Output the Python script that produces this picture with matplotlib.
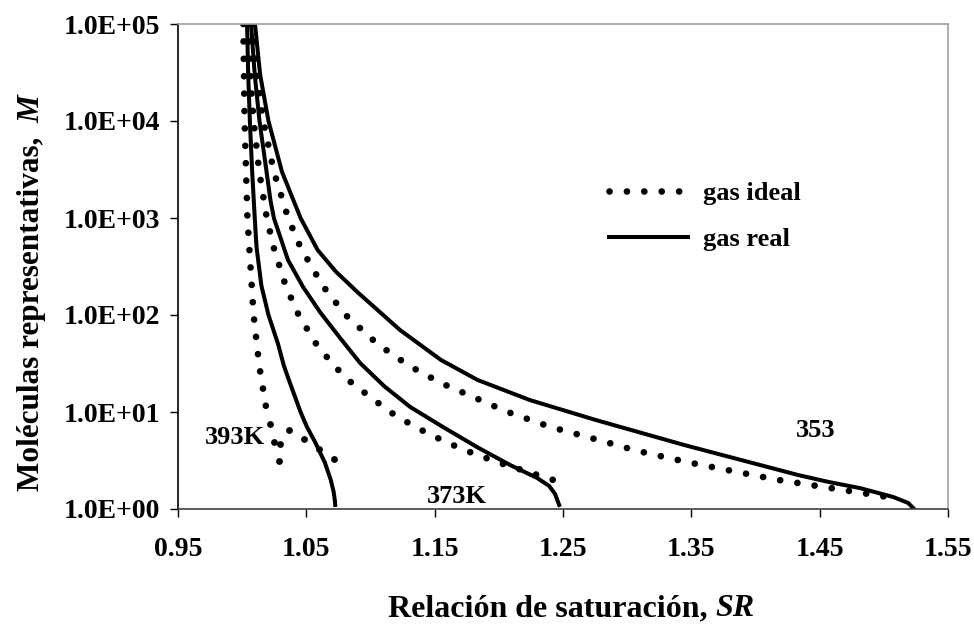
import numpy as np
import matplotlib
matplotlib.use('Agg')
import matplotlib.pyplot as plt
from matplotlib.ticker import FixedLocator, FuncFormatter

plt.rcParams['font.family'] = ['Liberation Serif', 'DejaVu Serif']
plt.rcParams['font.weight'] = 'bold'

# ── data (SR, M) ────────────────────────────────────────────────────────────
sr_393_ideal = [1.0009, 1.0019, 1.0041, 1.0089, 1.0133, 1.0192]
m_393_ideal = [1e5, 1e4, 1e3, 100, 30, 10]
# loose points where the 393 K ideal curve folds back
sr_393_tail = [1.0217, 1.0248, 1.0287, 1.0295, 1.0365, 1.0482, 1.0599, 1.0716]
m_393_tail = [7.5, 4.9, 3.1, 4.7, 6.5, 5.3, 4.2, 3.3]

sr_393_real = [1.0038, 1.0047, 1.0060, 1.0078, 1.0098, 1.0112, 1.0150, 1.0205, 1.0280,
               1.0325, 1.0372, 1.0455, 1.0505, 1.0565, 1.0600, 1.0645, 1.0690, 1.0713,
               1.0723, 1.0725]
m_393_real = [1e5, 3e4, 1e4, 3e3, 1e3, 500, 200, 100, 50, 30, 20, 10, 7, 5, 4, 3, 2, 1.5,
              1.2, 1.1]

sr_373_ideal = [1.0048, 1.0063, 1.0089, 1.0133, 1.0192, 1.0245, 1.0339, 1.0440, 1.0578,
                1.0716, 1.0852, 1.1153, 1.1349, 1.1574, 1.1743, 1.2001, 1.2420, 1.2454]
m_373_ideal = [1e5, 3e4, 1e4, 3e3, 1e3, 500, 200, 100, 50, 30, 20, 10, 7, 5, 4, 3, 2, 1.95]

sr_373_real = [1.0069, 1.0098, 1.0135, 1.0190, 1.0220, 1.0247, 1.0357, 1.0474, 1.0607,
               1.0763, 1.0919, 1.1106, 1.1308, 1.1565, 1.1830, 1.2088, 1.2298, 1.2392,
               1.2438, 1.2470]
m_373_real = [1e5, 3e4, 1e4, 3e3, 1535, 1e3, 369, 195, 107, 58, 32, 18.5, 11.3, 7.0, 4.35,
              2.84, 2.09, 1.73, 1.43, 1.10]

sr_353_ideal = [1.0076, 1.0114, 1.0165, 1.0247, 1.0358, 1.0454, 1.0628, 1.0806, 1.1056,
                1.1300, 1.1545, 1.2069, 1.2404, 1.2810, 1.3070, 1.3490, 1.4170, 1.4780,
                1.5120]
m_353_ideal = [1e5, 3e4, 1e4, 3e3, 1e3, 500, 200, 100, 50, 30, 20, 10, 7, 5, 4, 3, 2, 1.5,
               1.27]

sr_353_real = [1.0100, 1.0140, 1.0205, 1.0310, 1.0455, 1.0588, 1.0730, 1.0905, 1.1230,
               1.1549, 1.1834, 1.2240, 1.2754, 1.3444, 1.4332, 1.4570, 1.4816, 1.5073,
               1.5190, 1.5229]
m_353_real = [1e5, 3e4, 1e4, 3e3, 1e3, 468, 280, 169, 70, 34.4, 21.4, 13.3, 8.28, 4.57,
              2.24, 1.90, 1.64, 1.33, 1.153, 1.023]

x_ticks = [0.95, 1.05, 1.15, 1.25, 1.35, 1.45, 1.55]
y_ticks = [1e0, 1e1, 1e2, 1e3, 1e4, 1e5]

# ── plot ────────────────────────────────────────────────────────────────────
W, H = 974, 633
fig = plt.figure(figsize=(W / 100, H / 100), dpi=100)
ax = fig.add_axes([178 / W, 1 - 509 / H, 770 / W, 485 / H])

dot_kw = dict(color='black', linewidth=4.8, linestyle=(0, (0.01, 2.6)),
              dash_capstyle='round')
line_kw = dict(color='black', linewidth=2.9)

ax.plot(sr_393_ideal, m_393_ideal, **dot_kw, label='gas ideal')
ax.plot(sr_393_tail, m_393_tail, 'o', color='black', markersize=4.9, markeredgewidth=0)
ax.plot(sr_373_ideal, m_373_ideal, **dot_kw)
ax.plot(sr_353_ideal, m_353_ideal, **dot_kw)
ax.plot(sr_393_real, m_393_real, **line_kw, label='gas real')
ax.plot(sr_373_real, m_373_real, **line_kw)
ax.plot(sr_353_real, m_353_real, **line_kw)

ax.set_yscale('log')
ax.set_xlim(0.95, 1.55)
ax.set_ylim(1, 1e5)
ax.xaxis.set_major_locator(FixedLocator(x_ticks))
ax.xaxis.set_major_formatter(FuncFormatter(lambda v, p: f'{v:.2f}'))
ax.yaxis.set_major_locator(FixedLocator(y_ticks))
ax.yaxis.set_minor_locator(FixedLocator([]))
ax.yaxis.set_major_formatter(FuncFormatter(lambda v, p: f'{v:.1E}'))
ax.tick_params(direction='out', length=6, width=1, labelsize=20)
ax.tick_params(axis='x', pad=14)
ax.tick_params(axis='y', pad=7)

ax.spines['top'].set_color('#a0a0a0')
ax.spines['right'].set_color('#a0a0a0')
ax.spines['left'].set_color('black')
ax.spines['bottom'].set_color('#404040')
for s in ax.spines.values():
    s.set_linewidth(1.2)

ax.text(0.9944, 5.5, '393K', fontsize=19, ha='center', va='center')
ax.text(1.1675, 1.33, '373K', fontsize=19, ha='center', va='center')
ax.text(1.4465, 6.5, '353', fontsize=19, ha='center', va='center')

ax.legend(loc='upper left', bbox_to_anchor=(0.529, 0.724), frameon=False,
          fontsize=19, handlelength=3.0, handletextpad=0.55, labelspacing=0.85)

# axis titles: bold text + bold italic symbol
r = fig.canvas.get_renderer()
xa = fig.text(0, 0, 'Relación de saturación,', fontsize=23, weight='bold', va='center')
xb = fig.text(0, 0, 'SR', fontsize=23, weight='bold', style='italic', va='center')
wa = xa.get_window_extent(r).width
wb = xb.get_window_extent(r).width
gap = 8
x0 = 571 - (wa + gap + wb) / 2
xa.set_position((x0 / W, 1 - 609 / H))
xb.set_position(((x0 + wa + gap) / W, 1 - 609 / H))

ya = fig.text(0, 0, 'Moléculas representativas,', fontsize=22.5, weight='bold',
              rotation=90, ha='center', va='bottom')
yb = fig.text(0, 0, 'M', fontsize=22.5, weight='bold', style='italic',
              rotation=90, ha='center', va='bottom')
ha_ = ya.get_window_extent(r).height
hb_ = yb.get_window_extent(r).height
gap = 14
y0 = 293 + (ha_ + gap + hb_) / 2
ya.set_position((32 / W, 1 - y0 / H))
yb.set_position((32 / W, 1 - (y0 - ha_ - gap) / H))

fig.savefig('out.png', dpi=100)
